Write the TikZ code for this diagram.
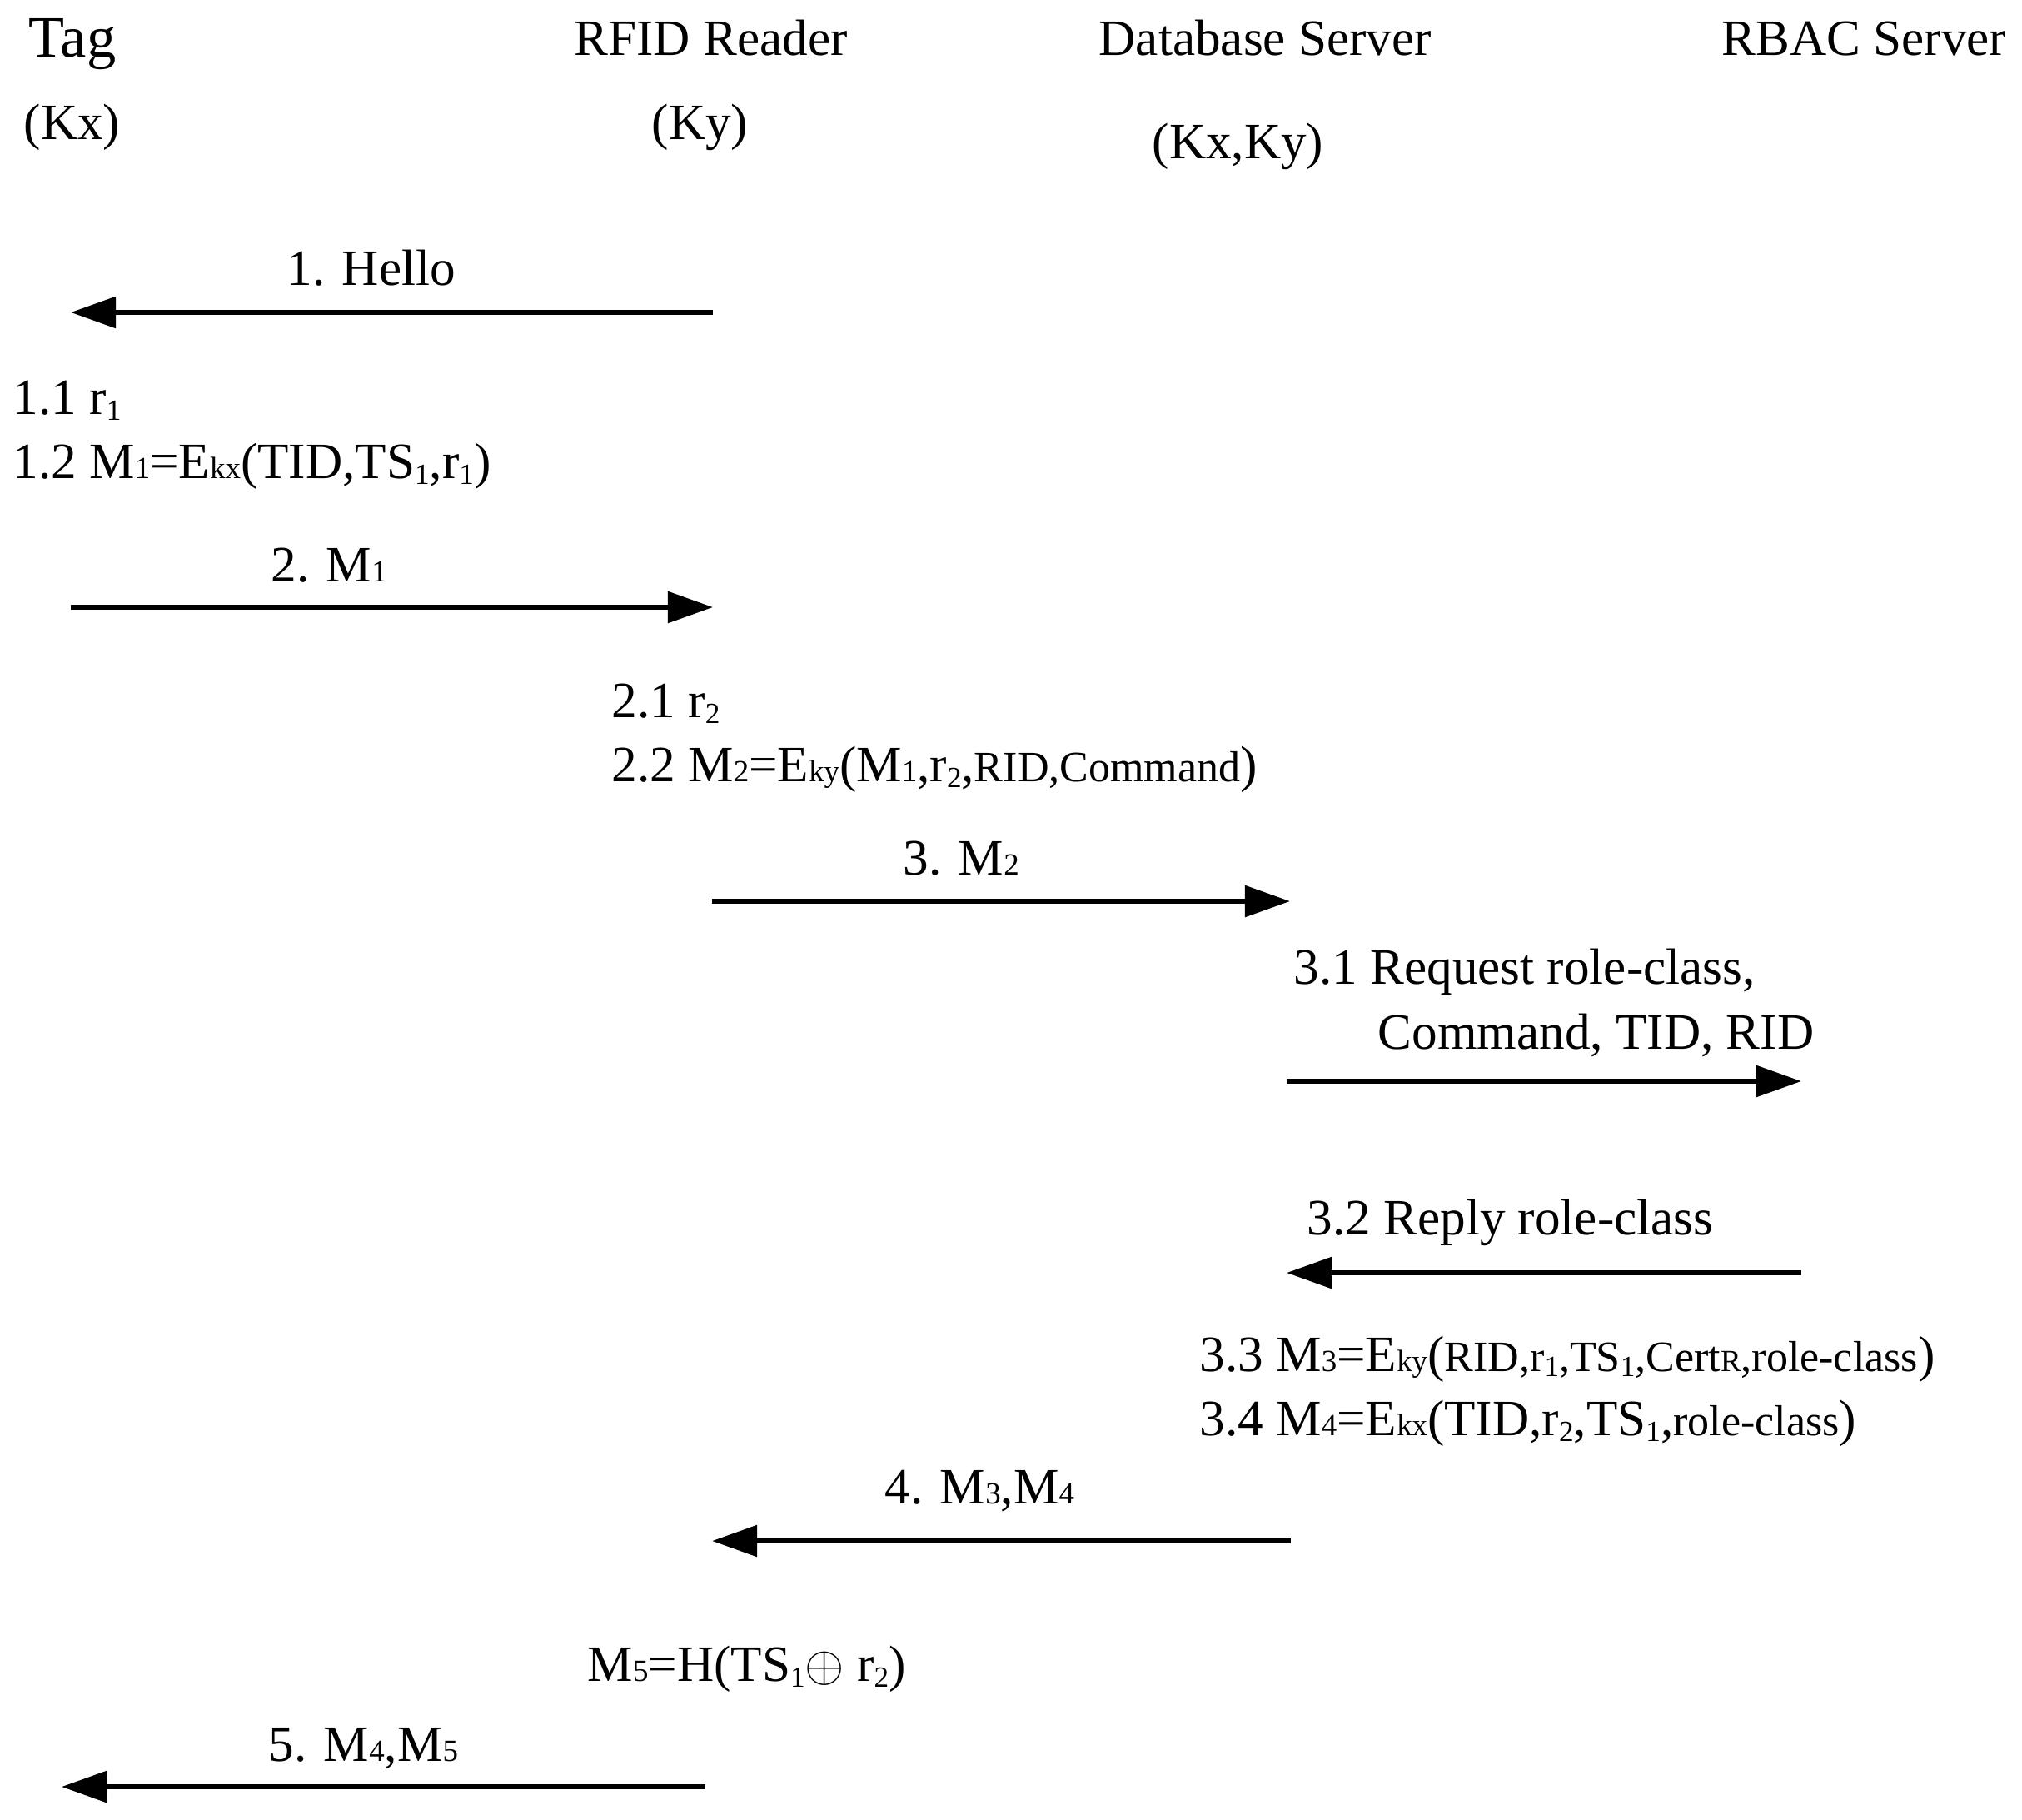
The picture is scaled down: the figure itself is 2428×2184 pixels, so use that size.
\documentclass[tikz,border=0pt]{standalone}
\usepackage{fontspec}
\setmainfont{Liberation Serif}
\usetikzlibrary{arrows.meta}
\newcommand{\sm}[1]{{\fontsize{10.5pt}{12pt}\selectfont #1}}
\newcommand{\smr}[1]{{\fontsize{14.8pt}{16pt}\selectfont #1}}
\newcommand{\sbs}[1]{\raisebox{-0.28ex}{\fontsize{10pt}{12pt}\selectfont #1}}
\begin{document}
\begin{tikzpicture}[x=0.01cm,y=-0.01cm,
  lbl/.style={anchor=base west, inner sep=0pt, font=\fontsize{17.4pt}{20pt}\selectfont},
  msg/.style={line width=1.7pt, -{Triangle[length=15.4pt,width=10.5pt]}}]
\useasboundingbox[fill=white] (0,0) rectangle (2428,2184);
% headers
\node[lbl, font=\fontsize{20pt}{24pt}\selectfont] (tag) at (34,68) {Tag};
\node[lbl] (tagk) at (28,167) {(Kx)};
\node[lbl] (rdr) at (689,66) {RFID Reader};
\node[lbl] (rdrk) at (782,167) {(Ky)};
\node[lbl] (db) at (1319,66) {Database Server};
\node[lbl] (dbk) at (1383,190) {(Kx,Ky)};
\node[lbl] (rbac) at (2067,66) {RBAC Server};
% step 1
\node[lbl] (l1) at (344,342) {1. Hello};
\coordinate (a1s) at (856,375); \coordinate (a1e) at (85,375);
\draw[msg] (a1s) -- (a1e);
\node[lbl] (l11) at (15,497) {1.1 r\sbs{1}};
\node[lbl] (l12) at (15,574) {1.2 M\sm{1}=E\sm{kx}(TID,TS\sbs{1},r\sbs{1})};
% step 2
\node[lbl] (l2) at (325,698) {2. M\sm{1}};
\coordinate (a2s) at (85,729); \coordinate (a2e) at (856,729);
\draw[msg] (a2s) -- (a2e);
\node[lbl] (l21) at (734,861) {2.1 r\sbs{2}};
\node[lbl] (l22) at (734,938) {2.2 M\sm{2}=E\sm{ky}(M\sm{1},r\sbs{2},\smr{RID,Command})};
% step 3
\node[lbl] (l3) at (1084,1050) {3. M\sm{2}};
\coordinate (a3s) at (855,1082); \coordinate (a3e) at (1549,1082);
\draw[msg] (a3s) -- (a3e);
\node[lbl] (l31) at (1553,1181) {3.1 Request role-class,};
\node[lbl] (l31b) at (1654,1259) {Command, TID, RID};
\coordinate (a31s) at (1545,1298); \coordinate (a31e) at (2163,1298);
\draw[msg] (a31s) -- (a31e);
\node[lbl] (l32) at (1569,1482) {3.2 Reply role-class};
\coordinate (a32s) at (2163,1528); \coordinate (a32e) at (1545,1528);
\draw[msg] (a32s) -- (a32e);
\node[lbl] (l33) at (1440,1646) {3.3 M\sm{3}=E\sm{ky}(\smr{RID,r\sbs{1},TS\sbs{1},Cert\sm{R},role-class})};
\node[lbl] (l34) at (1440,1723) {3.4 M\sm{4}=E\sm{kx}(TID,r\sbs{2},TS\sbs{1},\smr{role-class})};
% step 4
\node[lbl] (l4) at (1062,1805) {4. M\sm{3},M\sm{4}};
\coordinate (a4s) at (1550,1850); \coordinate (a4e) at (855,1850);
\draw[msg] (a4s) -- (a4e);
\node[lbl] (m5) at (705,2018) {M\sm{5}=H(TS\sbs{1}$\oplus$ r\sbs{2})};
% step 5
\node[lbl] (l5) at (322,2114) {5. M\sm{4},M\sm{5}};
\coordinate (a5s) at (847,2145); \coordinate (a5e) at (74,2145);
\draw[msg] (a5s) -- (a5e);
\end{tikzpicture}
\end{document}
